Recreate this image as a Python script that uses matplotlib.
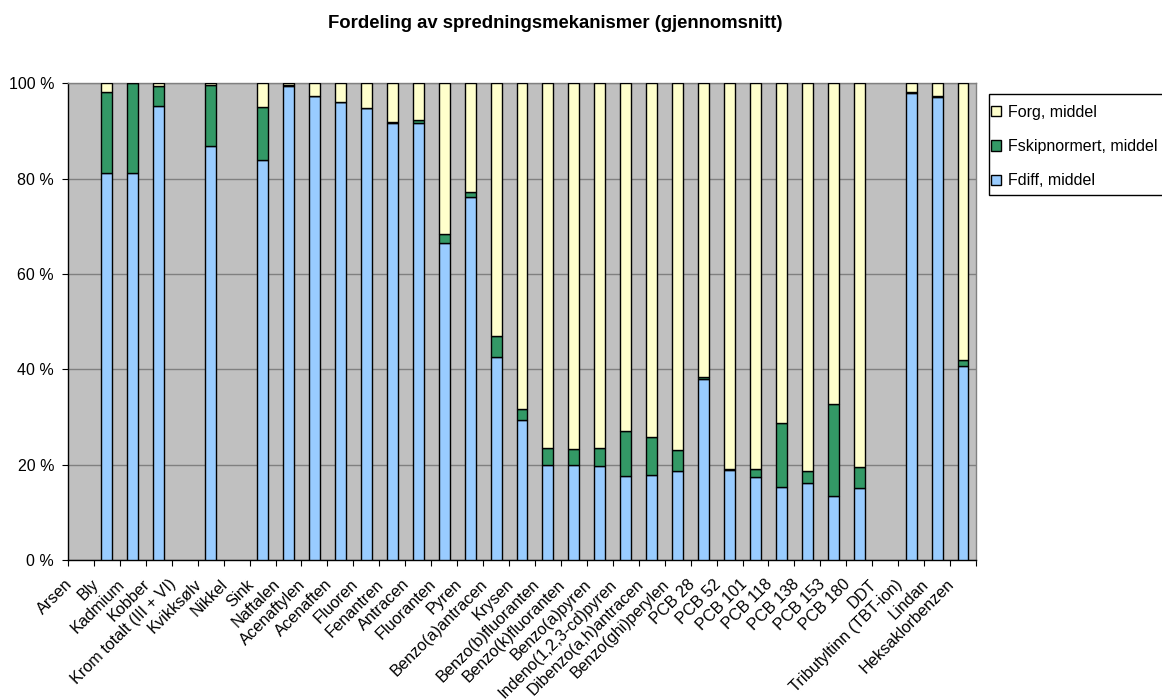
import matplotlib
matplotlib.use("Agg")
import matplotlib.pyplot as plt
from matplotlib.transforms import ScaledTranslation, blended_transform_factory
from matplotlib.patches import Patch, Rectangle
import numpy as np

categories = ["Arsen", "Bly", "Kadmium", "Kobber", "Krom totalt (III + VI)", "Kvikksølv",
              "Nikkel", "Sink", "Naftalen", "Acenaftylen", "Acenaften", "Fluoren",
              "Fenantren", "Antracen", "Fluoranten", "Pyren", "Benzo(a)antracen", "Krysen",
              "Benzo(b)fluoranten", "Benzo(k)fluoranten", "Benzo(a)pyren",
              "Indeno(1,2,3-cd)pyren", "Dibenzo(a,h)antracen", "Benzo(ghi)perylen",
              "PCB 28", "PCB 52", "PCB 101", "PCB 118", "PCB 138", "PCB 153", "PCB 180",
              "DDT", "Tributyltinn (TBT-ion)", "Lindan", "Heksaklorbenzen"]

fdiff = [0, 81.2, 81.1, 95.2, 0, 86.9, 0, 83.9, 99.4, 97.3, 96.1, 94.9, 91.6, 91.7,
         66.5, 76.2, 42.6, 29.4, 19.9, 19.9, 19.8, 17.6, 17.8, 18.7, 37.9, 18.9, 17.5,
         15.3, 16.2, 13.4, 15.1, 0, 98.0, 97.1, 40.7]
fskip = [0, 17.0, 18.9, 4.2, 0, 12.7, 0, 11.2, 0.3, 0, 0, 0, 0.3, 0.6,
         1.8, 1.0, 4.4, 2.3, 3.5, 3.3, 3.6, 9.5, 8.1, 4.4, 0.5, 0.2, 1.5,
         13.4, 2.5, 19.3, 4.4, 0, 0.2, 0.2, 1.2]
forg = [0, 1.8, 0.0, 0.6, 0, 0.4, 0, 4.9, 0.3, 2.7, 3.9, 5.1, 8.1, 7.7,
        31.7, 22.8, 53.0, 68.3, 76.6, 76.8, 76.6, 72.9, 74.1, 76.9, 61.6, 80.9, 81.0,
        71.3, 81.3, 67.3, 80.5, 0, 1.8, 2.7, 58.1]

series_names = ["Fdiff, middel", "Fskipnormert, middel", "Forg, middel"]
colors = ["#99CCFF", "#339966", "#FFFFCC"]
yticks = [0, 20, 40, 60, 80, 100]
title = "Fordeling av spredningsmekanismer (gjennomsnitt)"

plt.rcParams['font.family'] = ['Liberation Sans', 'DejaVu Sans']

fig = plt.figure(figsize=(11.62, 7.0), dpi=100)
ax = fig.add_axes([68/1162, 1 - 560/700, (976-68)/1162, (560-83.3)/700])
ax.set_facecolor("#C0C0C0")

x = np.arange(len(categories))
series = [np.array(v, dtype=float) for v in (fdiff, fskip, forg)]
has_data = (series[0] + series[1] + series[2]) > 0
bottom = np.zeros(len(categories))
for v, col in zip(series, colors):
    ax.bar(x[has_data], v[has_data], width=0.42, bottom=bottom[has_data], color=col,
           edgecolor="black", linewidth=1.0, zorder=3)
    bottom += v

ax.set_xlim(-0.5, len(categories) - 0.5)
ax.set_ylim(0, 100)
ax.set_yticks(yticks)
ax.set_yticklabels([f"{t} %" for t in yticks], fontsize=11.5)
ax.yaxis.grid(True, color="#808080", linewidth=1.0, zorder=0)
ax.set_axisbelow(True)

ax.set_xticks(np.arange(len(categories) + 1) - 0.5)
ax.set_xticklabels([])
ax.tick_params(axis="x", direction="out", length=4, width=0.8, color="black")
ax.tick_params(axis="y", direction="out", length=4, width=0.8, color="black", pad=6)

for s in ["top", "right"]:
    ax.spines[s].set_color("#808080")
for s in ["left", "bottom"]:
    ax.spines[s].set_color("black")
for s in ax.spines.values():
    s.set_linewidth(1.0)

trans = blended_transform_factory(ax.transData, ax.transAxes)
off = ScaledTranslation(-11/100, -22/100, fig.dpi_scale_trans)
for i, lab in enumerate(categories):
    ax.text(i, 0, lab, transform=trans + off, rotation=45, rotation_mode="anchor",
            ha="right", va="center", fontsize=11.7, clip_on=False)

fig.text(555/1162, 1 - 24/700, title, ha="center", va="center",
         fontsize=13.3, fontweight="bold")

# legend frame (extends past the right edge like the reference)
fig.patches.append(Rectangle((989/1162, 1 - 195/700), 200/1162, 101/700,
                             transform=fig.transFigure, facecolor="white",
                             edgecolor="black", linewidth=1.0, zorder=1))

handles = [Patch(facecolor=colors[i], edgecolor="black", linewidth=1.0)
           for i in [2, 1, 0]]
labels = [series_names[i] for i in [2, 1, 0]]
leg = fig.legend(handles, labels, loc="upper left",
                 bbox_to_anchor=(991/1162, 1 - 105/700), fontsize=11.5,
                 frameon=False, handlelength=0.6, handleheight=0.6,
                 handletextpad=0.45, labelspacing=1.2, borderpad=0.0,
                 borderaxespad=0)
leg.set_zorder(2)

fig.savefig("out.png", dpi=100, facecolor="white")
